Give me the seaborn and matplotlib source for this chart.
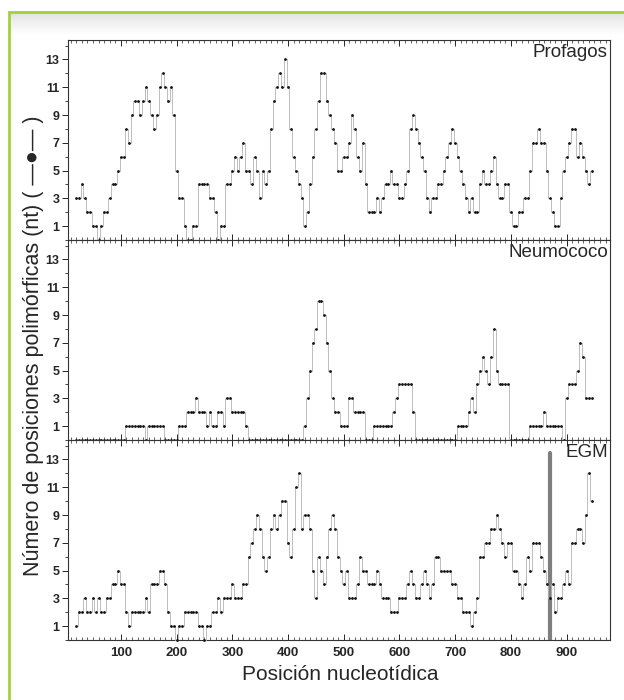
import numpy as np
import matplotlib
matplotlib.use('Agg')
import matplotlib.pyplot as plt
from matplotlib.patches import Rectangle
from matplotlib.ticker import MultipleLocator, FixedLocator
import seaborn as sns

#%% Datos (ventana deslizante)
pos = list(range(20, 950, 5))

profagos = [3, 3, 4, 3, 2, 2, 1, 1, 0, 1,
            2, 2, 3, 4, 4, 5, 6, 6, 8, 7,
            9, 10, 10, 9, 10, 11, 10, 9, 8, 9,
            11, 12, 11, 10, 11, 9, 5, 3, 3, 1,
            0, 0, 1, 1, 4, 4, 4, 4, 3, 3,
            2, 0, 1, 1, 4, 4, 5, 6, 5, 6,
            7, 5, 5, 4, 6, 5, 3, 5, 4, 5,
            8, 10, 11, 12, 11, 13, 11, 8, 6, 5,
            4, 3, 1, 2, 4, 6, 8, 10, 12, 12,
            10, 9, 8, 7, 5, 5, 6, 6, 7, 9,
            8, 6, 5, 7, 4, 2, 2, 2, 3, 2,
            3, 4, 4, 5, 4, 4, 3, 3, 4, 5,
            8, 9, 8, 7, 6, 5, 3, 2, 3, 3,
            4, 4, 5, 6, 7, 8, 7, 6, 5, 4,
            3, 2, 3, 2, 2, 4, 5, 4, 4, 5,
            6, 4, 3, 3, 4, 4, 2, 1, 1, 2,
            2, 3, 3, 5, 7, 7, 8, 7, 7, 5,
            3, 2, 1, 1, 3, 5, 6, 7, 8, 8,
            6, 7, 6, 5, 4, 5]

neumococo = [0, 0, 0, 0, 0, 0, 0, 0, 0, 0,
             0, 0, 0, 0, 0, 0, 0, 0, 1, 1,
             1, 1, 1, 1, 1, 0, 1, 1, 1, 1,
             1, 1, 0, 0, 0, 0, 0, 1, 1, 1,
             2, 2, 2, 3, 2, 2, 2, 1, 2, 1,
             1, 2, 2, 1, 3, 3, 2, 2, 2, 2,
             2, 1, 0, 0, 0, 0, 0, 0, 0, 0,
             0, 0, 0, 0, 0, 0, 0, 0, 0, 0,
             0, 0, 1, 3, 5, 7, 8, 10, 10, 9,
             7, 5, 3, 2, 2, 1, 1, 1, 3, 3,
             2, 2, 2, 2, 0, 0, 0, 1, 1, 1,
             1, 1, 1, 1, 2, 3, 4, 4, 4, 4,
             4, 2, 0, 0, 0, 0, 0, 0, 0, 0,
             0, 0, 0, 0, 0, 0, 0, 1, 1, 1,
             1, 2, 3, 2, 4, 5, 6, 5, 4, 6,
             8, 5, 4, 4, 4, 4, 0, 0, 0, 0,
             0, 0, 0, 1, 1, 1, 1, 1, 2, 1,
             1, 1, 1, 1, 1, 0, 3, 4, 4, 4,
             5, 7, 6, 3, 3, 3]

egm = [1, 2, 2, 3, 2, 2, 3, 2, 3, 2,
       2, 3, 3, 4, 4, 5, 4, 4, 2, 1,
       2, 2, 2, 2, 2, 3, 2, 4, 4, 4,
       5, 5, 4, 2, 1, 1, 0, 1, 1, 2,
       2, 2, 2, 2, 1, 1, 0, 1, 1, 2,
       2, 3, 2, 3, 3, 3, 4, 3, 3, 3,
       4, 4, 6, 7, 8, 9, 8, 6, 5, 6,
       8, 9, 8, 9, 10, 10, 7, 6, 8, 11,
       12, 8, 9, 9, 8, 5, 3, 6, 5, 4,
       6, 8, 9, 8, 6, 5, 4, 5, 3, 3,
       3, 4, 6, 5, 5, 4, 4, 4, 5, 4,
       3, 3, 3, 2, 2, 2, 3, 3, 3, 4,
       5, 4, 3, 3, 4, 5, 4, 3, 4, 6,
       6, 5, 5, 5, 5, 4, 4, 3, 3, 2,
       2, 2, 1, 2, 3, 6, 6, 7, 7, 8,
       8, 9, 8, 7, 6, 7, 7, 5, 5, 4,
       3, 4, 6, 5, 7, 7, 7, 6, 5, 4,
       3, 4, 2, 3, 3, 4, 5, 4, 7, 7,
       8, 8, 7, 9, 12, 10]

paneles = ['Profagos', 'Neumococo', 'EGM']
series = [profagos, neumococo, egm]
marca_egm = 870
ticks_y = [1, 3, 5, 7, 9, 11, 13]
ticks_x = [100, 200, 300, 400, 500, 600, 700, 800, 900]

#%% Estilo
sns.set_style('ticks')
plt.rcParams['font.family'] = ['Liberation Sans', 'DejaVu Sans']

fig, axs = plt.subplots(3, 1, figsize=(6.24, 7.0), dpi=100, sharex=True)
fig.subplots_adjust(left=68/624, right=610/624, top=1-40/700, bottom=1-640/700, hspace=0)

# franja gris arriba y marco verde
bg = fig.add_axes([10/624, 1-35/700, 1-10/624, 22/700], zorder=-5)
grad = np.linspace(0.89, 1.0, 50).reshape(-1, 1)
bg.imshow(grad, cmap='gray', vmin=0, vmax=1, aspect='auto', interpolation='bilinear')
bg.axis('off')
fig.patches.append(Rectangle((9/624, -0.05), 1.1, 1-12/700+0.05, transform=fig.transFigure,
                             fill=False, edgecolor='#a6cf3a', lw=2.0, zorder=10))

#%% Paneles
for ax, nombre, vals in zip(axs, paneles, series):
    sns.lineplot(x=pos, y=vals, ax=ax, color='#b3b3b3', lw=0.6, drawstyle='steps-mid',
                 marker='o', markersize=2.0, markerfacecolor='#111111', markeredgecolor='#111111',
                 markeredgewidth=0, clip_on=False, zorder=3)
    ax.set_xlim(5, 978)
    ax.set_ylim(0, 14.4)
    ax.yaxis.set_major_locator(FixedLocator(ticks_y))
    ax.yaxis.set_minor_locator(MultipleLocator(1))
    ax.xaxis.set_major_locator(FixedLocator(ticks_x))
    ax.xaxis.set_minor_locator(MultipleLocator(10))
    ax.tick_params(axis='y', which='major', direction='out', length=4, width=0.7,
                   labelsize=9, pad=2)
    ax.tick_params(axis='y', which='minor', direction='out', length=2, width=0.6)
    ax.tick_params(axis='x', which='major', direction='in', length=4, width=0.7,
                   top=True, bottom=True, labelsize=9.5, pad=5)
    ax.tick_params(axis='x', which='minor', direction='in', length=2, width=0.5,
                   top=True, bottom=True)
    for lab in ax.get_yticklabels() + ax.get_xticklabels():
        lab.set_fontweight('bold')
    for s in ax.spines.values():
        s.set_linewidth(0.8)
        s.set_color('#333333')
    ax.set_xlabel('')
    ax.set_ylabel('')
    ax.text(0.996, 0.98, nombre, transform=ax.transAxes, ha='right', va='top', fontsize=13.5)

axs[2].axvline(marca_egm, ymin=0, ymax=0.935, color='#7f7f7f', lw=3, zorder=2)

fig.text(340/624, 1-674/700, 'Posición nucleotídica', ha='center', va='center', fontsize=15)
fig.text(34/624, 1-346/700, 'Número de posiciones polimórficas (nt) ( \u2014\u25cf\u2014 )',
         rotation=90, ha='center', va='center', fontsize=15.5)

fig.savefig('out.png', dpi=100)
